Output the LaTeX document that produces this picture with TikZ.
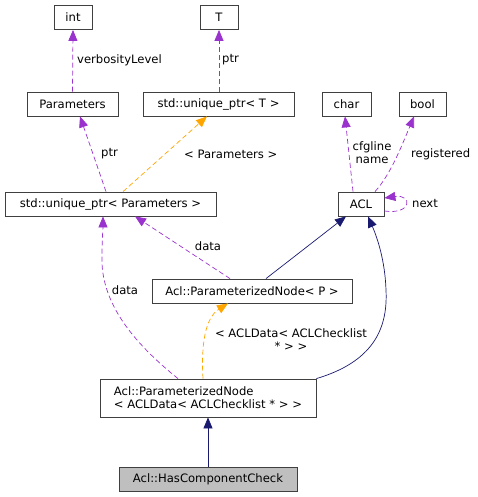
\documentclass[tikz,border=0pt]{standalone}
\usepackage{fontspec}
\setmainfont{DejaVu Sans}
\usetikzlibrary{arrows.meta}
\definecolor{edgepurple}{HTML}{9A32CD}
\definecolor{edgeorange}{HTML}{FFA500}
\definecolor{edgenavy}{HTML}{191970}
\definecolor{boxgray}{HTML}{BFBFBF}
\begin{document}
\begin{tikzpicture}[x=1pt, y=-1pt,
        every node/.style={font=\fontsize{11.6}{13}\selectfont},
        box/.style={draw=black!75, line width=0.8pt, fill=white, inner sep=0pt, minimum height=24pt},
        member/.style={draw=edgepurple, dash pattern=on 5pt off 3pt, line width=0.7pt,
                -{Triangle[length=11pt, width=9pt]}},
        templ/.style={draw=edgeorange, dash pattern=on 5pt off 3pt, line width=0.7pt,
                -{Triangle[length=11pt, width=9pt]}},
        inherit/.style={draw=edgenavy, line width=0.7pt,
                -{Triangle[length=11pt, width=9pt]}},
        lbl/.style={inner sep=0pt}]
    \useasboundingbox (0,0) rectangle (477,497);
    \node[box, minimum width=38pt] (int) at (73,17.5) {int};
    \node[box, minimum width=38pt] (T) at (219,17.5) {T};
    \node[box, minimum width=91pt] (params) at (72.5,104) {Parameters};
    \node[box, minimum width=151pt] (uptrT) at (218.5,104) {std::unique\_ptr< T >};
    \node[box, minimum width=49pt] (char) at (346.5,104) {char};
    \node[box, minimum width=47pt] (bool) at (422.5,104) {bool};
    \node[box, minimum width=211pt] (uptrP) at (110.5,204) {std::unique\_ptr< Parameters >};
    \node[box, minimum width=46pt] (acl) at (361,204) {ACL};
    \node[box, minimum width=200pt] (pnP) at (252,291) {Acl::ParameterizedNode< P >};
    \node[box, minimum width=216pt, minimum height=38pt, align=left] (pnA) at (208,398)
        {Acl::ParameterizedNode\\< ACLData< ACLChecklist * > >};
    \node[box, minimum width=178pt, fill=boxgray] (hcc) at (208,479) {Acl::HasComponentCheck};

    \draw[member] (params.north) -- (int.south);
    \node[lbl, anchor=west] (lverb) at (77,60) {verbosityLevel};
    \draw[member] ([xshift=0.5pt]uptrT.north) -- (T.south);
    \node[lbl, anchor=west] (lptrT) at (222,60) {ptr};

    \draw[member] ([xshift=-4.5pt]uptrP.north) -- ([xshift=7.5pt]params.south);
    \node[lbl, anchor=west] (lptrP) at (101,154) {ptr};
    \draw[templ] ([xshift=12.5pt]uptrP.north) -- ([xshift=-11.5pt]uptrT.south);
    \node[lbl, anchor=west] (lparams) at (184,154) {< Parameters >};

    \draw[member] ([xshift=-8pt]acl.north) -- ([xshift=-1.5pt]char.south);
    \node[lbl, align=center] (lcfg) at (372,153) {cfgline\\name};
    \draw[member] ([xshift=14pt]acl.north) .. controls (390,175) and (400,150) .. ([xshift=-8.5pt]bool.south);
    \node[lbl, anchor=west] (lreg) at (411,154) {registered};
    \draw[member] ([yshift=-7pt]acl.east) .. controls +(28,4) and +(28,-4) .. ([yshift=6pt]acl.east);
    \node[lbl, anchor=west] (lnext) at (412,204) {next};

    \draw[member] ([xshift=-22pt]pnP.north) -- ([xshift=24.5pt]uptrP.south);
    \node[lbl] (ldata1) at (208,246) {data};
    \draw[inherit] ([xshift=14pt]pnP.north) -- ([xshift=-15pt]acl.south);

    \draw[inherit] (pnA.north east) .. controls (372,362) and (388,330) .. (386,290)
        .. controls (385,260) and (377,237) .. ([xshift=7pt]acl.south);
    \draw[member] ([xshift=-30pt]pnA.north) .. controls (130,340) and (100,300) .. (102,255)
        .. controls (102,240) and (103,228) .. ([xshift=-7.5pt]uptrP.south);
    \node[lbl] (ldata2) at (125,290) {data};
    \draw[templ] ([xshift=-5pt]pnA.north) .. controls (201,345) and (205,318) .. ([xshift=-24pt]pnP.south);
    \node[lbl, align=center] (lacl) at (291,340) {< ACLData< ACLChecklist\\* > >};

    \draw[inherit] (hcc.north) -- (pnA.south);
\end{tikzpicture}
\end{document}
